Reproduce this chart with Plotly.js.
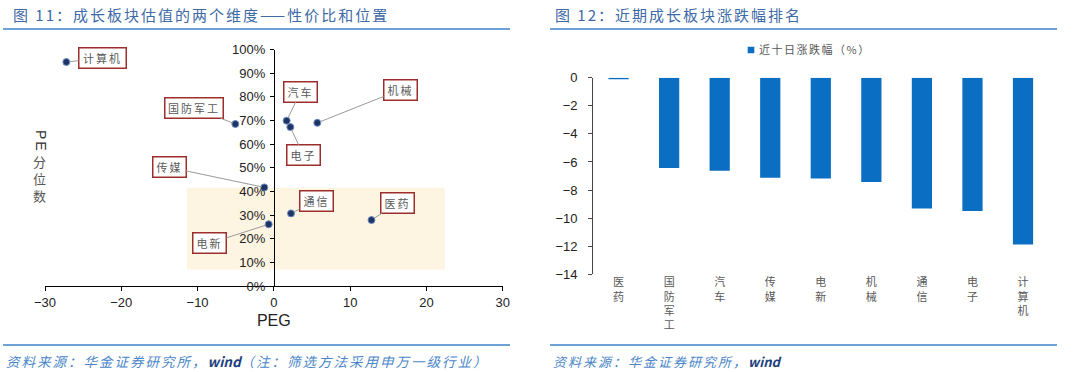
<!DOCTYPE html>
<html><head><meta charset="utf-8">
<script src="https://cdn.plot.ly/plotly-3.0.1.min.js"></script>
<style>
html,body{margin:0;padding:0;background:#fff;}
#chart{width:1080px;height:372px;}
.infolayer g.annotation text.annotation-text{letter-spacing:2px;}
.legendtext{letter-spacing:1.5px;}
.legend .legendpoints path{transform:translate(32px,0) scale(0.55);}
</style></head><body><div id="chart"></div>
<script>
// ---- data: scatter (PEG vs PE percentile)
const sectors = ['计算机','国防军工','汽车','电子','机械','传媒','电新','通信','医药'];
const pegValues = [-27.2, -5.05, 1.68, 2.16, 5.70, -1.25, -0.68, 2.25, 12.8];
const pePercentile = [0.947, 0.685, 0.699, 0.672, 0.690, 0.417, 0.261, 0.307, 0.279];
// ---- data: bar (10-day change, %)
const barCategories = ['医药','国防军工','汽车','传媒','电新','机械','通信','电子','计算机'];
const barValues = [-0.11, -6.43, -6.62, -7.13, -7.18, -7.42, -9.31, -9.50, -11.87];
const barSeriesName = '近十日涨跌幅（%）';
const yTickVals = [0,0.1,0.2,0.3,0.4,0.5,0.6,0.7,0.8,0.9,1.0];
const xTickVals = [-30,-20,-10,0,10,20,30];
// highlighted zone (PEG range, percentile range)
const zoneX = [-11.4, 22.4];
const zoneY = [0.07, 0.415];

// ---- layout helpers (pixel geometry)
const W = 1080, H = 372;
const px = v => v / W;
const py = v => (H - v) / H;
const FONT = 'Liberation Sans, Arial, Noto Sans CJK SC, sans-serif';
const CJK = 'Noto Sans CJK SC, Liberation Sans, sans-serif';

const leftX = [px(45), px(502.7)];
const leftY = [py(286), py(49.5)];
const rightX = [px(593.3), px(1048.3)];
const rightY = [py(274.3), py(77.7)];
const yAxisPos = leftX[0] + (0 - (-30)) / 60 * (leftX[1] - leftX[0]);

// label offsets (pixels) for callout boxes
const labelLayout = {
  '计算机': [36, -4], '国防军工': [-41, -16], '汽车': [14, -29], '电子': [13, 28],
  '机械': [83, -33], '传媒': [-95, -20], '电新': [-59, 19], '通信': [25, -12], '医药': [26, -17]
};

const traces = [
  {
    type: 'scatter', mode: 'markers', x: pegValues, y: pePercentile, text: sectors,
    xaxis: 'x', yaxis: 'y', showlegend: false, hoverinfo: 'text+x+y',
    marker: {size: 7, color: '#1c3566', line: {color: '#6f8cc0', width: 1}}
  },
  {
    type: 'bar', x: barCategories, y: barValues, name: barSeriesName,
    xaxis: 'x2', yaxis: 'y2', width: 0.4, marker: {color: '#0a6fc2'}, showlegend: true
  }
];

const annotations = [];
sectors.forEach((s, i) => {
  const off = labelLayout[s];
  const w = s.length === 2 ? 28 : (s.length === 3 ? 42 : 53);
  annotations.push({
    xref: 'x', yref: 'y', x: pegValues[i], y: pePercentile[i], text: s,
    ax: off[0], ay: off[1], showarrow: true, arrowhead: 0, arrowwidth: 1, arrowcolor: '#9a9a9a',
    standoff: 3, bgcolor: '#ffffff', bordercolor: '#9c2f2c', borderwidth: 1.5, borderpad: 2,
    width: w, height: 15, font: {family: CJK, size: 11, color: '#5a5a5a'}
  });
});
// axis arrows
annotations.push({xref: 'x', yref: 'y', x: 30.4, y: 0, ax: -14, ay: 0, text: '', showarrow: true,
  arrowhead: 2, arrowsize: 1, arrowwidth: 1.2, arrowcolor: '#000'});
annotations.push({xref: 'x', yref: 'y', x: 0, y: 1.008, ax: 0, ay: 14, text: '', showarrow: true,
  arrowhead: 2, arrowsize: 1, arrowwidth: 1.2, arrowcolor: '#000'});
// y title (vertical)
annotations.push({xref: 'paper', yref: 'paper', x: px(31), y: py(141), text: 'PE', textangle: 90,
  showarrow: false, font: {family: FONT, size: 14, color: '#333'}});
annotations.push({xref: 'paper', yref: 'paper', x: px(31.5), y: py(178), text: '分<br>位<br>数',
  showarrow: false, font: {family: CJK, size: 13, color: '#555'}});
// titles (centered so letter spacing grows symmetrically)
annotations.push({xref: 'paper', yref: 'paper', x: px(201), y: py(14.5), xanchor: 'center', yanchor: 'middle',
  text: '图 11：成长板块估值的两个维度——性价比和位置', showarrow: false,
  font: {family: CJK, size: 15, color: '#3e6aa6'}});
annotations.push({xref: 'paper', yref: 'paper', x: px(678), y: py(14.5), xanchor: 'center', yanchor: 'middle',
  text: '图 12：近期成长板块涨跌幅排名', showarrow: false,
  font: {family: CJK, size: 15, color: '#3e6aa6'}});
// footers
const windSpan = '<b><span style="color:#1d3f80;letter-spacing:0px">wind</span></b>';
annotations.push({xref: 'paper', yref: 'paper', x: px(247), y: py(361), xanchor: 'center', yanchor: 'middle',
  text: '<i>资料来源：华金证券研究所，' + windSpan + '（注：筛选方法采用申万一级行业）</i>',
  showarrow: false, font: {family: CJK, size: 13.5, color: '#4a86c8'}});
annotations.push({xref: 'paper', yref: 'paper', x: px(667), y: py(361), xanchor: 'center', yanchor: 'middle',
  text: '<i>资料来源：华金证券研究所，' + windSpan + '</i>',
  showarrow: false, font: {family: CJK, size: 13, color: '#4a86c8'}});

const lineStyle = {color: '#3a85c9', width: 1.5};
const shapes = [
  {type: 'rect', xref: 'x', yref: 'y', x0: zoneX[0], x1: zoneX[1], y0: zoneY[0], y1: zoneY[1],
    fillcolor: '#fdf4e1', line: {width: 0}, layer: 'below'},
  {type: 'line', xref: 'paper', yref: 'paper', x0: px(3), x1: px(510), y0: py(29), y1: py(29), line: lineStyle},
  {type: 'line', xref: 'paper', yref: 'paper', x0: px(550), x1: px(1057), y0: py(29), y1: py(29), line: lineStyle},
  {type: 'line', xref: 'paper', yref: 'paper', x0: px(3), x1: px(510), y0: py(345), y1: py(345), line: lineStyle},
  {type: 'line', xref: 'paper', yref: 'paper', x0: px(550), x1: px(1057), y0: py(345), y1: py(345), line: lineStyle}
];

const boundaries = barCategories.map((c, i) => i - 0.5).concat([barCategories.length - 0.5]);

const layout = {
  width: W, height: H, margin: {l: 0, r: 0, t: 0, b: 0},
  paper_bgcolor: '#fff', plot_bgcolor: 'rgba(0,0,0,0)',
  font: {family: FONT, color: '#222'},
  showlegend: true,
  legend: {orientation: 'h', x: px(719), y: py(50), xanchor: 'left', yanchor: 'middle',
    font: {family: CJK, size: 11, color: '#595959'}, bgcolor: 'rgba(0,0,0,0)'},
  xaxis: {domain: leftX, anchor: 'y', range: [-30, 30], tickvals: xTickVals, showgrid: false, zeroline: false,
    showline: true, linecolor: '#000', linewidth: 1.2, ticks: 'outside', ticklen: 4, tickcolor: '#000',
    tickfont: {family: FONT, size: 13, color: '#222'},
    title: {text: 'PEG', font: {family: FONT, size: 16, color: '#222'}, standoff: 6}},
  yaxis: {domain: leftY, anchor: 'free', position: yAxisPos, range: [0, 1], tickvals: yTickVals, tickformat: '.0%',
    showgrid: false, zeroline: false, showline: true, linecolor: '#000', linewidth: 1.2,
    ticks: 'outside', ticklen: 4, tickcolor: '#000', ticklabelstandoff: 2,
    tickfont: {family: FONT, size: 13, color: '#222'}},
  xaxis2: {domain: rightX, anchor: 'y2', type: 'category', showgrid: false, zeroline: false, showline: false,
    ticks: '', tickangle: 0, tickfont: {family: CJK, size: 11, color: '#595959'},
    tickvals: barCategories, ticktext: barCategories.map(c => c.split('').join('<br>'))},
  xaxis3: {overlaying: 'x2', anchor: 'y2', side: 'top', range: [-0.5, barCategories.length - 0.5],
    tickvals: boundaries, ticks: 'inside', ticklen: 4, tickcolor: '#444', showticklabels: false,
    showline: true, linecolor: '#444', linewidth: 1.2, showgrid: false, zeroline: false},
  yaxis2: {domain: rightY, anchor: 'x2', range: [-14, 0], dtick: 2, showgrid: false, zeroline: false,
    showline: true, linecolor: '#444', linewidth: 1.2, ticks: 'outside', ticklen: 4, tickcolor: '#444',
    ticklabelstandoff: 8, tickfont: {family: FONT, size: 13, color: '#222'}},
  annotations: annotations,
  shapes: shapes
};

Plotly.newPlot('chart', traces, layout, {staticPlot: true, displayModeBar: false});
</script></body></html>
